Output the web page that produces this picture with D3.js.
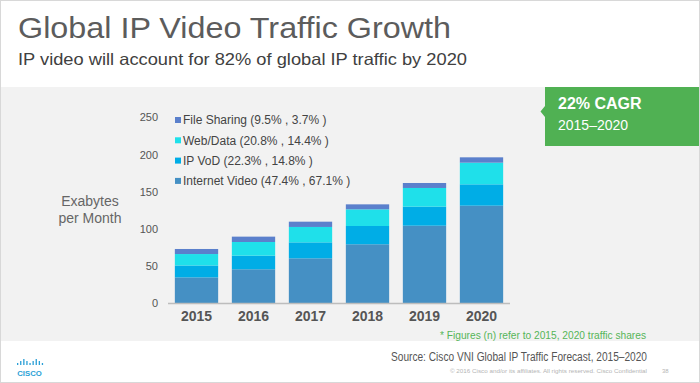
<!DOCTYPE html>
<html><head><meta charset="utf-8">
<script src="https://cdn.jsdelivr.net/npm/d3@7"></script>
<style>html,body{margin:0;padding:0;background:#fff;}svg{display:block;font-family:"Liberation Sans",Arial,sans-serif;}</style>
</head><body>
<svg id="c" width="700" height="383"></svg>
<script>
const years = ["2015","2016","2017","2018","2019","2020"];
const internetVideo = [34.4, 45.3, 60.0, 78.9, 103.9, 130.8];
const ipVod = [16.0, 18.3, 21.5, 24.6, 25.6, 28.7];
const webData = [15.4, 18.4, 20.7, 22.4, 25.1, 29.1];
const fileSharing = [6.8, 7.2, 7.1, 6.7, 6.7, 7.2];
const seriesNames = ["Internet Video", "IP VoD", "Web/Data", "File Sharing"];
const legendLabels = ["File Sharing (9.5% , 3.7% )", "Web/Data (20.8% , 14.4% )", "IP VoD (22.3% , 14.8% )", "Internet Video (47.4% , 67.1% )"];
const legendKeys = ["File Sharing", "Web/Data", "IP VoD", "Internet Video"];
const yTicks = [0, 50, 100, 150, 200, 250];

const colors = {"Internet Video":"#4590c4","IP VoD":"#00ade6","Web/Data":"#1fe0ea","File Sharing":"#5b80cc"};

const svg = d3.select("#c");
// background
svg.append("rect").attr("x",0).attr("y",0).attr("width",700).attr("height",383).attr("fill","#fff");
svg.append("rect").attr("x",0).attr("y",87).attr("width",700).attr("height",254).attr("fill","#f2f2f2");
svg.append("rect").attr("x",0.5).attr("y",0.5).attr("width",699).attr("height",382).attr("fill","none").attr("stroke","#d8d8d8");

// title
svg.append("text").attr("x",18).attr("y",38).attr("font-size",30).attr("fill","#5c5c5c")
  .attr("textLength",433).attr("lengthAdjust","spacingAndGlyphs").text("Global IP Video Traffic Growth");
svg.append("text").attr("x",18).attr("y",64.5).attr("font-size",16.5).attr("fill","#404040")
  .attr("textLength",449).attr("lengthAdjust","spacingAndGlyphs").text("IP video will account for 82% of global IP traffic by 2020");

// data
const data = years.map((y,i)=>({year:y,"Internet Video":internetVideo[i],"IP VoD":ipVod[i],"Web/Data":webData[i],"File Sharing":fileSharing[i]}));
const stack = d3.stack().keys(seriesNames)(data);

const x = d3.scaleBand().domain(years).range([168,510]).paddingInner(0.24).paddingOuter(0.12);
const y = d3.scaleLinear().domain([0,250]).range([303,117]);

const g = svg.append("g");
g.selectAll("g.s").data(stack).join("g").attr("class","s").attr("fill",d=>colors[d.key])
  .selectAll("rect").data(d=>d).join("rect")
  .attr("x",d=>x(d.data.year)).attr("width",x.bandwidth())
  .attr("y",d=>y(d[1])).attr("height",d=>y(d[0])-y(d[1]));

// axis line
svg.append("line").attr("x1",168).attr("x2",510).attr("y1",y(0)+0.5).attr("y2",y(0)+0.5).attr("stroke","#bdbdbd").attr("stroke-width",1.5);

// y labels
const yAxis = d3.axisLeft(y).tickValues(yTicks).tickSize(0).tickPadding(0);
const ya = svg.append("g").attr("transform","translate(158,0)").call(yAxis);
ya.select(".domain").remove();
ya.selectAll("text").attr("font-size",11).attr("fill","#555").attr("font-family","Liberation Sans, Arial, sans-serif").attr("dy","0.35em");

// x labels
const xAxis = d3.axisBottom(x).tickSize(0).tickPadding(0);
const xa = svg.append("g").attr("transform","translate(0,321)").call(xAxis);
xa.select(".domain").remove();
xa.selectAll("text").attr("font-size",14).attr("font-weight","bold").attr("fill","#555").attr("font-family","Liberation Sans, Arial, sans-serif").attr("dy",0).attr("y",0);

// y title
const yt = svg.append("text").attr("text-anchor","middle").attr("font-size",14).attr("fill","#666");
yt.append("tspan").attr("x",90).attr("y",206).text("Exabytes");
yt.append("tspan").attr("x",90).attr("y",223).text("per Month");

// legend
const lg = svg.append("g");
legendKeys.forEach((k,i)=>{
  const cy = 120 + i*20.3;
  lg.append("rect").attr("x",175).attr("y",cy-3).attr("width",6).attr("height",6).attr("fill",colors[k]);
  lg.append("text").attr("x",183).attr("y",cy+4.3).attr("font-size",12).attr("fill","#444").text(legendLabels[i]);
});

// CAGR box
svg.append("path").attr("d","M545,87 L699,87 L699,146 L545,146 L545,117 L540.5,111.5 L545,106 Z").attr("fill","#50b153");
svg.append("text").attr("x",558).attr("y",109).attr("font-size",16).attr("font-weight","bold").attr("fill","#fff").text("22% CAGR");
svg.append("text").attr("x",558).attr("y",130).attr("font-size",14).attr("fill","#fff").text("2015–2020");

// footnote
svg.append("text").attr("x",440).attr("y",339).attr("font-size",11).attr("fill","#55b558")
  .attr("textLength",206).attr("lengthAdjust","spacingAndGlyphs").text("* Figures (n) refer to 2015, 2020 traffic shares");

// source
svg.append("text").attr("x",391).attr("y",361).attr("font-size",12).attr("fill","#555")
  .attr("textLength",256).attr("lengthAdjust","spacingAndGlyphs").text("Source: Cisco VNI Global IP Traffic Forecast, 2015–2020");
svg.append("text").attr("x",450).attr("y",373).attr("font-size",6).attr("fill","#b5b5b5")
  .attr("textLength",197).attr("lengthAdjust","spacingAndGlyphs").text("© 2016  Cisco and/or its affiliates. All rights reserved.   Cisco Confidential");
svg.append("text").attr("x",662).attr("y",373).attr("font-size",6).attr("fill","#b5b5b5").text("38");

// cisco logo
const logoBars = [2,4,6,4,2,4,6,4,2];
const lgG = svg.append("g").attr("fill","#2a9fd6");
logoBars.forEach((h,i)=>{
  lgG.append("rect").attr("x",17+i*3.1).attr("y",365-h).attr("width",1.3).attr("height",h);
});
svg.append("text").attr("x",29.5).attr("y",375.5).attr("text-anchor","middle").attr("font-size",7).attr("font-weight","bold").attr("fill","#2a9fd6")
  .attr("textLength",24.5).attr("lengthAdjust","spacingAndGlyphs").text("CISCO");
</script>
</body></html>
